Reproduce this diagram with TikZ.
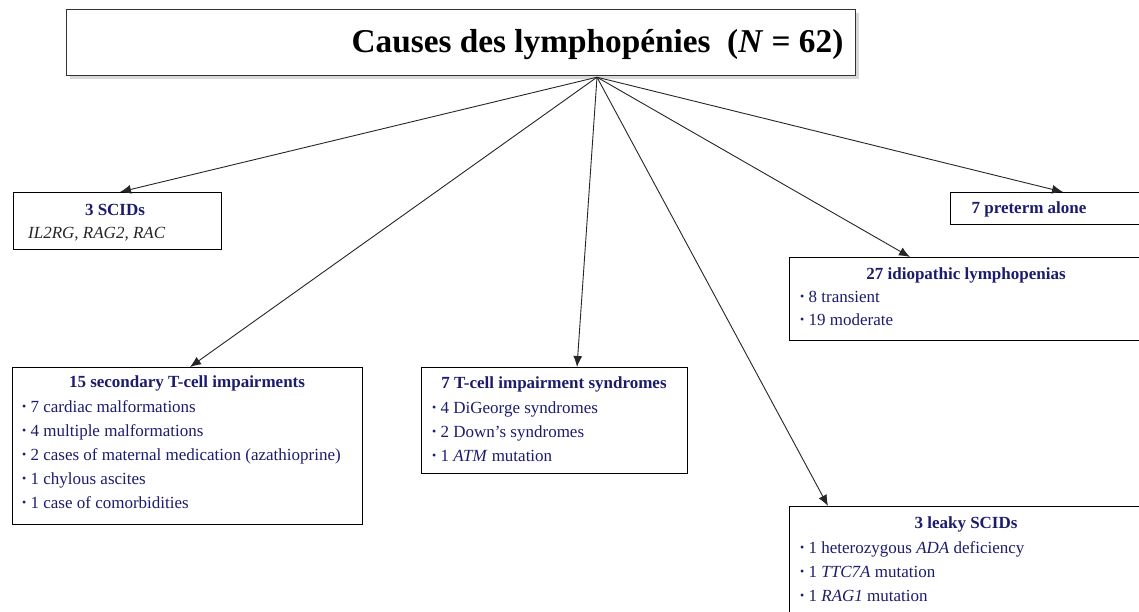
\documentclass[tikz,border=0pt]{standalone}
\usepackage{fontspec}
\usepackage{graphicx}
\setmainfont{Liberation Serif}
\usetikzlibrary{arrows.meta,shadows}
\definecolor{navy}{RGB}{28,28,110}
\newcommand{\bul}{\raisebox{1.8pt}{\scalebox{0.7}{•}}\ }
\begin{document}
\begin{tikzpicture}[x=1pt,y=-1pt,
  box/.style={draw=black, line width=0.9pt, inner sep=0pt, anchor=north west, fill=white},
  ttl/.style={font=\fontsize{17}{19}\selectfont\bfseries, text=navy, anchor=base, inner sep=0pt},
  itm/.style={font=\fontsize{17}{19}\selectfont, text=navy, anchor=base west, inner sep=0pt},
  arr/.style={-{Latex[length=11pt,width=9pt]}, line width=0.9pt, draw=black!85}]
\useasboundingbox (0,0) rectangle (1139,612);
\fill[white] (0,0) rectangle (1139,612);

% title
\node[box, draw=black!80, line width=1.2pt, minimum width=789pt, minimum height=66pt, drop shadow={shadow xshift=3pt, shadow yshift=-3pt, fill=black!25, opacity=0.6}] (titlebox) at (66,9) {};
\node[anchor=base, inner sep=0pt, text=black, font=\fontsize{33.3}{36}\selectfont\bfseries] (title) at (597.5,53) {Causes des lymphopénies\ \ (\textit{N} = 62)};
\coordinate (hub) at ([xshift=531pt, yshift=-1pt]titlebox.south west);

% 3 SCIDs
\node[box, minimum width=208pt, minimum height=57pt] (scid) at (13,192) {};
\node[ttl] (scidT) at (115,215) {3 SCIDs};
\node[itm, text=black!85] (scid1) at (28,239) {\textit{IL2RG, RAG2, RAC}};

% 7 preterm alone
\node[box, minimum width=189pt, minimum height=32pt] (pre) at (950,192) {};
\node[ttl] (preT) at (1029,214) {7 preterm alone};

% 27 idiopathic
\node[box, minimum width=351pt, minimum height=83pt] (idio) at (789,257) {};
\node[ttl] (idioT) at (966,279) {27 idiopathic lymphopenias};
\node[itm] (idio1) at (800,302) {\bul 8 transient};
\node[itm] (idio2) at (800,325) {\bul 19 moderate};

% 15 secondary
\node[box, minimum width=350pt, minimum height=157pt] (sec) at (12,367) {};
\node[ttl] (secT) at (187,387) {15 secondary T-cell impairments};
\node[itm] (sec1) at (22,412) {\bul 7 cardiac malformations};
\node[itm] (sec2) at (22,436) {\bul 4 multiple malformations};
\node[itm] (sec3) at (22,460) {\bul 2 cases of maternal medication (azathioprine)};
\node[itm] (sec4) at (22,484) {\bul 1 chylous ascites};
\node[itm] (sec5) at (22,508) {\bul 1 case of comorbidities};

% 7 T-cell
\node[box, minimum width=266pt, minimum height=106pt] (tc) at (421,367) {};
\node[ttl] (tcT) at (554,388) {7 T-cell impairment syndromes};
\node[itm] (tc1) at (432,413) {\bul 4 DiGeorge syndromes};
\node[itm] (tc2) at (432,437) {\bul 2 Down’s syndromes};
\node[itm] (tc3) at (432,461) {\bul 1 \textit{ATM} mutation};

% 3 leaky
\node[box, minimum width=351pt, minimum height=110pt] (leak) at (789,506) {};
\node[ttl] (leakT) at (966,528) {3 leaky SCIDs};
\node[itm] (leak1) at (800,553) {\bul 1 heterozygous \textit{ADA} deficiency};
\node[itm] (leak2) at (800,577) {\bul 1 \textit{TTC7A} mutation};
\node[itm] (leak3) at (800,601) {\bul 1 \textit{RAG1} mutation};

% arrows
\draw[arr] (hub) -- ([xshift=107pt]scid.north west);
\draw[arr] (hub) -- ([xshift=178pt]sec.north west);
\draw[arr] (hub) -- ([xshift=156pt]tc.north west);
\draw[arr] (hub) -- ([xshift=39pt]leak.north west);
\draw[arr] (hub) -- ([xshift=121pt]idio.north west);
\draw[arr] (hub) -- ([xshift=113pt]pre.north west);
\end{tikzpicture}
\end{document}
